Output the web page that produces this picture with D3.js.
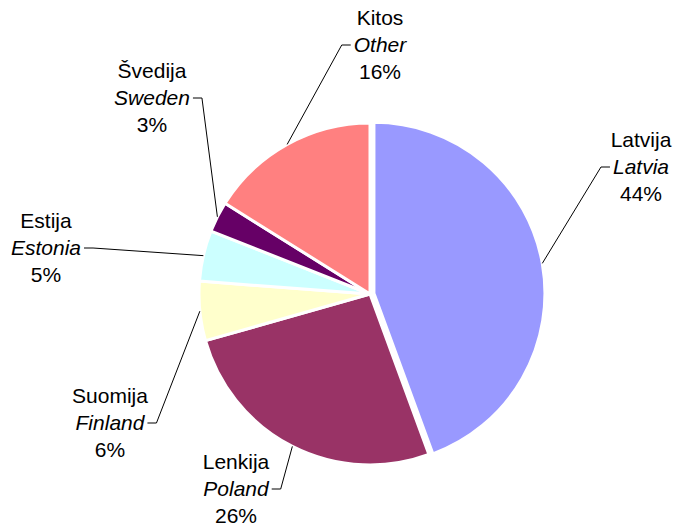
<!DOCTYPE html>
<meta charset="utf-8">
<script src="https://d3js.org/d3.v7.min.js"></script>
<body>
<div id="pieChart"></div>
<style>
 body {
     margin: 0;
     background-color: #ffffff;
 }
 text {
     font-family: "Liberation Sans", Arial, sans-serif;
     font-size: 21px;
     fill: #000;
 }
</style>
<script>

// data: slices clockwise from 12 o'clock (shares)
var namesLt = ["Latvija", "Lenkija", "Suomija", "Estija", "Švedija", "Kitos"];
var namesEn = ["Latvia", "Poland", "Finland", "Estonia", "Sweden", "Other"];
var shares = [44.4, 26.2, 5.6, 4.8, 2.9, 16.1];
var colors = ["#9999ff", "#993366", "#ffffcc", "#ccffff", "#660066", "#ff8080"];

// label layout: centre x, baseline of middle line, side of the leader tick
var labelPos = [
  {x: 641, y: 174, side: "left"},
  {x: 236, y: 496, side: "right"},
  {x: 110, y: 430, side: "right"},
  {x: 46,  y: 255, side: "right"},
  {x: 152, y: 105, side: "right"},
  {x: 380, y: 52,  side: "left"}
];

var width = 673, height = 527;
var cx = 370, cy = 294, radius = 171;

var svg = d3.select("#pieChart")
  .append("svg")
    .attr("width", width)
    .attr("height", height);

var data = shares.map(function(v, i) {
  return {lt: namesLt[i], en: namesEn[i], value: v, color: colors[i], pos: labelPos[i], explode: i == 0 ? 4 : 0};
});

var pie = d3.pie()
  .sort(null)
  .value(function(d) { return d.value; });

var arc = d3.arc()
  .innerRadius(0)
  .outerRadius(radius);

var arcs = pie(data);
var total = d3.sum(shares);

var g = svg.append("g")
  .attr("transform", "translate(" + cx + "," + cy + ")");

// slices
g.selectAll("path")
  .data(arcs)
  .enter().append("path")
    .attr("d", arc)
    .attr("fill", function(d) { return d.data.color; })
    .attr("stroke", "#ffffff")
    .attr("stroke-width", 3)
    .attr("stroke-linejoin", "round")
    .attr("transform", function(d) {
      var a = (d.startAngle + d.endAngle) / 2;
      var o = d.data.explode;
      return "translate(" + (o * Math.sin(a)) + "," + (-o * Math.cos(a)) + ")";
    });

// labels
var labels = svg.append("g");
arcs.forEach(function(d) {
  var p = d.data.pos;
  var t = labels.append("text")
    .attr("x", p.x)
    .attr("y", p.y)
    .attr("text-anchor", "middle");
  t.append("tspan").attr("x", p.x).attr("dy", -27).text(d.data.lt);
  var en = t.append("tspan").attr("x", p.x).attr("dy", 27).style("font-style", "italic").text(d.data.en);
  t.append("tspan").attr("x", p.x).attr("dy", 27).text(Math.round(d.data.value / total * 100) + "%");

  // leader line: short tick beside the italic name, then to the slice edge
  var w = en.node().getComputedTextLength();
  var ty = p.y - 7;
  var tx0 = p.side == "left" ? p.x - w / 2 - 3 : p.x + w / 2 + 3;
  var tx1 = p.side == "left" ? tx0 - 9 : tx0 + 9;
  var a = (d.startAngle + d.endAngle) / 2;
  var o = d.data.explode;
  var ex = cx + (radius + o) * Math.sin(a);
  var ey = cy - (radius + o) * Math.cos(a);
  labels.append("path")
    .attr("d", "M" + tx0 + "," + ty + "L" + tx1 + "," + ty + "L" + ex + "," + ey)
    .attr("fill", "none")
    .attr("stroke", "#000")
    .attr("stroke-width", 1);
});

</script>
</body>
